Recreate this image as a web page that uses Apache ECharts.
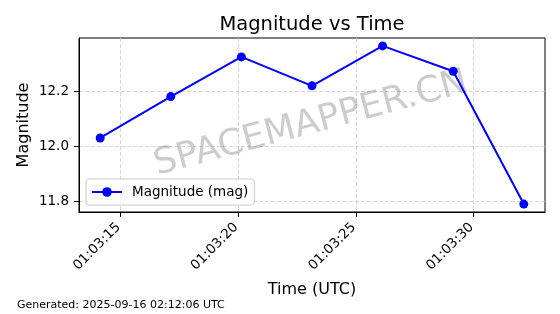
<!DOCTYPE html>
<html>
<head>
<meta charset="utf-8">
<script src="https://cdn.jsdelivr.net/npm/echarts@6/dist/echarts.min.js"></script>
<style>
html,body{margin:0;padding:0;background:#fff;}
#c{width:560px;height:314px;}
</style>
</head>
<body>
<div id="c"></div>
<script>
// ---- data ----
const times = ["01:03:14.13","01:03:17.13","01:03:20.13","01:03:23.13","01:03:26.13","01:03:29.13","01:03:32.13"];
const mags = [12.03, 12.18, 12.324, 12.219, 12.364, 12.272, 11.79];
const xTickLabels = ["01:03:15","01:03:20","01:03:25","01:03:30"];
const yTicks = [11.8, 12.0, 12.2];
const seriesName = "Magnitude (mag)";
const titleText = "Magnitude vs Time";
const footerText = "Generated: 2025-09-16 02:12:06 UTC";
const watermarkText = "SPACEMAPPER.CN";

// ---- helpers ----
function toSec(t){ const p = t.split(':'); return (+p[0])*3600 + (+p[1])*60 + (+p[2]) - 3780; }
function fmtSec(v){ const s = Math.round(v); return "01:03:" + String(s).padStart(2,'0'); }
const xs = times.map(toSec);
const xTickVals = xTickLabels.map(toSec);
const pts = xs.map((x,i)=>[x, mags[i]]);
const xMinD = Math.min(...xs), xMaxD = Math.max(...xs);
const yMinD = Math.min(...mags), yMaxD = Math.max(...mags);
const xm = (xMaxD-xMinD)*0.05, ym = (yMaxD-yMinD)*0.05;

const FONT = "DejaVu Sans";
const chart = echarts.init(document.getElementById('c'), null, {renderer:'canvas'});
chart.setOption({
  animation:false,
  backgroundColor:'#fff',
  grid:{left:79, right:15, top:38, bottom:102, show:true, borderColor:'#000', borderWidth:1, backgroundColor:'transparent'},
  xAxis:{
    type:'value', min:xMinD-xm, max:xMaxD+xm,
    name:'Time (UTC)', nameLocation:'middle', nameGap:70, nameMoveOverlap:false,
    nameTextStyle:{fontFamily:FONT, fontSize:16, color:'#000'},
    axisLine:{show:true, lineStyle:{color:'#000', width:1}},
    axisTick:{show:true, length:5, customValues:xTickVals, lineStyle:{color:'#000'}},
    axisLabel:{customValues:xTickVals, rotate:45, margin:11, fontFamily:FONT, fontSize:13.5, color:'#000', formatter:fmtSec, padding:[0,3,0,0]},
    splitLine:{show:true, lineStyle:{color:'#cccccc', type:[4,2], width:0.8}}
  },
  yAxis:{
    type:'value', min:yMinD-ym, max:yMaxD+ym,
    name:'Magnitude', nameLocation:'middle', nameGap:47, nameRotate:90, nameMoveOverlap:false,
    nameTextStyle:{fontFamily:FONT, fontSize:16, color:'#000'},
    axisLine:{show:true, lineStyle:{color:'#000', width:1}},
    axisTick:{show:true, length:5, customValues:yTicks, lineStyle:{color:'#000'}},
    axisLabel:{customValues:yTicks, margin:10, fontFamily:FONT, fontSize:13.5, color:'#000', formatter:v=>v.toFixed(1)},
    splitLine:{show:true, lineStyle:{color:'#cccccc', type:[4,2], width:0.8}}
  },
  legend:{
    left:86, top:179, orient:'horizontal',
    padding:[6,6,6,5],
    backgroundColor:'rgba(255,255,255,0.8)',
    borderColor:'#cccccc', borderWidth:1, borderRadius:3,
    itemWidth:30, itemHeight:12,
    textStyle:{fontFamily:FONT, fontSize:13.5, color:'#000', padding:[0,0,0,5]},
    data:[seriesName]
  },
  graphic:[
    {type:'text', x:312, y:24.5, z:10, style:{text:titleText, font:'19.5px "DejaVu Sans"', fill:'#000', textAlign:'center', textVerticalAlign:'middle'}},
    {type:'text', x:17, y:305.5, z:10, style:{text:footerText, font:'11px "DejaVu Sans"', fill:'#000', textAlign:'left', textVerticalAlign:'middle'}},
    {type:'text', x:311, y:124, rotation:15*Math.PI/180, z:1, style:{text:watermarkText, font:'36px "DejaVu Sans"', fill:'rgba(128,128,128,0.4)', textAlign:'center', textVerticalAlign:'middle'}}
  ],
  series:[{
    name:seriesName, type:'line', data:pts, z:5,
    symbol:'circle', symbolSize:9, showSymbol:true,
    lineStyle:{color:'#0000ff', width:2},
    itemStyle:{color:'#0000ff'}
  }]
});
</script>
</body>
</html>
